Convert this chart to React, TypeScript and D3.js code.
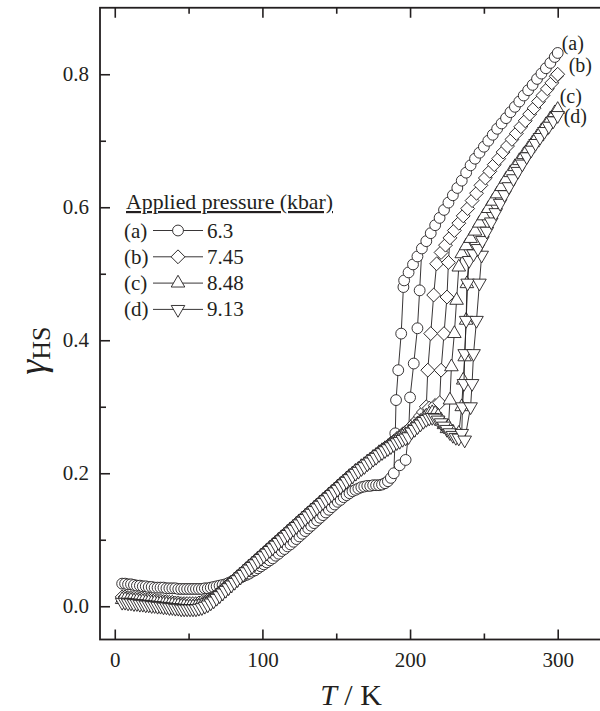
import * as d3 from "d3";
import { useEffect, useRef } from "react";

const width = 600;
const height = 711;
const ink = "#231f20";
const font = "'Liberation Serif', 'Times New Roman', serif";

// temperature grid (K) shared by the low-temperature branches: 5, 7, 9 ... 241
const lowT = [
  5, 7, 9, 11, 13, 15, 17, 19, 21, 23, 25, 27, 29, 31, 33, 35, 37, 39, 41, 43, 45, 47, 49, 51, 53, 55, 57, 59, 61, 63,
  65, 67, 69, 71, 73, 75, 77, 79, 81, 83, 85, 87, 89, 91, 93, 95, 97, 99, 101, 103, 105, 107, 109, 111, 113, 115, 117, 119, 121, 123,
  125, 127, 129, 131, 133, 135, 137, 139, 141, 143, 145, 147, 149, 151, 153, 155, 157, 159, 161, 163, 165, 167, 169, 171, 173, 175, 177, 179, 181, 183,
  185, 187, 189, 191, 193, 195, 197, 199, 201, 203, 205, 207, 209, 211, 213, 215, 217, 219, 221, 223, 225, 227, 229, 231, 233, 235, 237, 239, 241,
];

// (a) 6.3 kbar
const aLowV = [
  0.034, 0.034, 0.033, 0.033, 0.032, 0.031, 0.031, 0.03, 0.03, 0.029, 0.029, 0.028, 0.028, 0.028, 0.028, 0.027, 0.027, 0.027, 0.027, 0.026, 0.026, 0.026, 0.026, 0.026, 0.026, 0.026, 0.026, 0.026, 0.027, 0.027,
  0.028, 0.029, 0.03, 0.031, 0.032, 0.033, 0.035, 0.037, 0.039, 0.041, 0.043, 0.045, 0.047, 0.049, 0.052, 0.054, 0.057, 0.06, 0.063, 0.066, 0.069, 0.072, 0.076, 0.079, 0.083, 0.086, 0.09, 0.093, 0.097, 0.101,
  0.105, 0.109, 0.113, 0.117, 0.121, 0.125, 0.129, 0.133, 0.137, 0.141, 0.145, 0.149, 0.153, 0.157, 0.16, 0.164, 0.167, 0.17, 0.173, 0.175, 0.177, 0.179, 0.18, 0.181, 0.181, 0.182, 0.182, 0.182, 0.183, 0.185,
  0.188, 0.193, 0.2,
];
const aCol1T = [190, 190.5, 192, 194, 195.5];
const aCol1V = [0.26, 0.31, 0.355, 0.41, 0.48];
const aCol2T = [193, 197, 199, 200, 202.5, 205, 206.5];
const aCol2V = [0.212, 0.22, 0.26, 0.314, 0.365, 0.418, 0.475];
const aHighT = [196, 199, 202, 205, 208, 211, 214, 217, 220, 223, 226, 229, 232, 235, 238, 241, 244, 247, 250, 253, 256, 259, 262, 265, 268, 271, 274, 277, 280, 283, 286, 289, 292, 295, 298, 300];
const aHighV = [0.49, 0.502, 0.514, 0.526, 0.538, 0.549, 0.561, 0.573, 0.584, 0.596, 0.607, 0.618, 0.629, 0.64, 0.652, 0.663, 0.673, 0.682, 0.691, 0.7, 0.709, 0.718, 0.726, 0.734, 0.743, 0.751, 0.759, 0.768, 0.776, 0.784, 0.793, 0.801, 0.809, 0.817, 0.826, 0.832];

// (b) 7.45 kbar
const bLowV = [
  0.014, 0.014, 0.013, 0.013, 0.012, 0.012, 0.011, 0.011, 0.01, 0.01, 0.009, 0.009, 0.008, 0.008, 0.007, 0.007, 0.006, 0.006, 0.005, 0.005, 0.004, 0.004, 0.004, 0.004, 0.004, 0.004, 0.005, 0.006, 0.007, 0.009,
  0.011, 0.014, 0.017, 0.02, 0.024, 0.028, 0.032, 0.036, 0.04, 0.044, 0.048, 0.052, 0.056, 0.06, 0.064, 0.068, 0.072, 0.076, 0.08, 0.084, 0.088, 0.092, 0.096, 0.1, 0.104, 0.108, 0.112, 0.116, 0.12, 0.124,
  0.128, 0.132, 0.136, 0.14, 0.144, 0.148, 0.152, 0.156, 0.16, 0.164, 0.168, 0.172, 0.176, 0.18, 0.184, 0.188, 0.192, 0.196, 0.199, 0.203, 0.206, 0.21, 0.213, 0.217, 0.22, 0.224, 0.227, 0.231, 0.234, 0.238,
  0.241, 0.245, 0.248, 0.252, 0.255, 0.259, 0.262, 0.266, 0.27, 0.275, 0.28, 0.286, 0.292,
];
const bCol1T = [211, 212, 214, 216, 218];
const bCol1V = [0.3, 0.355, 0.41, 0.468, 0.515];
const bCol2T = [213, 217, 220, 221, 223, 225, 226];
const bCol2V = [0.298, 0.302, 0.306, 0.355, 0.41, 0.465, 0.517];
const bHighT = [221, 224, 227, 230, 233, 236, 239, 242, 245, 248, 251, 254, 257, 260, 263, 266, 269, 272, 275, 278, 281, 284, 287, 290, 293, 296, 299, 300];
const bHighV = [0.532, 0.543, 0.554, 0.565, 0.576, 0.587, 0.598, 0.61, 0.621, 0.633, 0.644, 0.654, 0.664, 0.673, 0.683, 0.692, 0.702, 0.711, 0.721, 0.73, 0.74, 0.749, 0.759, 0.768, 0.778, 0.787, 0.797, 0.8];

// (c) 8.48 kbar
const cLowV = [
  0.01, 0.01, 0.009, 0.009, 0.008, 0.008, 0.007, 0.007, 0.006, 0.006, 0.005, 0.005, 0.004, 0.004, 0.003, 0.003, 0.002, 0.002, 0.001, 0.001, 0.0, 0.0, -0.001, -0.001, -0.001, -0.001, 0.0, 0.001, 0.003, 0.005,
  0.008, 0.011, 0.015, 0.019, 0.023, 0.027, 0.031, 0.035, 0.039, 0.043, 0.047, 0.051, 0.055, 0.059, 0.063, 0.067, 0.071, 0.075, 0.079, 0.083, 0.087, 0.091, 0.095, 0.099, 0.103, 0.107, 0.111, 0.115, 0.119, 0.123,
  0.127, 0.131, 0.135, 0.139, 0.143, 0.147, 0.151, 0.155, 0.159, 0.163, 0.167, 0.171, 0.175, 0.179, 0.183, 0.187, 0.191, 0.195, 0.199, 0.203, 0.206, 0.21, 0.213, 0.217, 0.22, 0.224, 0.227, 0.231, 0.234, 0.237,
  0.24, 0.243, 0.246, 0.249, 0.252, 0.255, 0.258, 0.261, 0.266, 0.27, 0.274, 0.278, 0.282, 0.286, 0.289, 0.291, 0.29, 0.286, 0.28, 0.273, 0.267,
];
const cCol1T = [226, 227, 228, 230, 231.5, 233];
const cCol1V = [0.27, 0.31, 0.36, 0.41, 0.46, 0.51];
const cCol2T = [229, 233, 235, 236, 237, 238, 238.5];
const cCol2V = [0.262, 0.26, 0.3, 0.34, 0.375, 0.43, 0.485];
const cHighT = [235, 238, 241, 244, 247, 250, 253, 256, 259, 262, 265, 268, 271, 274, 277, 280, 283, 286, 289, 292, 295, 298, 300];
const cHighV = [0.53, 0.542, 0.553, 0.564, 0.576, 0.587, 0.598, 0.609, 0.62, 0.631, 0.642, 0.652, 0.661, 0.67, 0.679, 0.688, 0.697, 0.706, 0.715, 0.724, 0.733, 0.742, 0.747];

// (d) 9.13 kbar
const dLowV = [
  0.006, 0.006, 0.005, 0.005, 0.004, 0.004, 0.003, 0.003, 0.002, 0.002, 0.001, 0.001, 0.0, 0.0, -0.001, -0.001, -0.002, -0.002, -0.003, -0.003, -0.004, -0.004, -0.004, -0.004, -0.004, -0.004, -0.003, -0.002, 0.0, 0.002,
  0.005, 0.008, 0.012, 0.016, 0.02, 0.024, 0.028, 0.032, 0.036, 0.04, 0.044, 0.048, 0.052, 0.056, 0.06, 0.064, 0.068, 0.072, 0.076, 0.08, 0.084, 0.088, 0.092, 0.096, 0.1, 0.104, 0.108, 0.112, 0.116, 0.12,
  0.124, 0.128, 0.132, 0.136, 0.14, 0.144, 0.148, 0.152, 0.156, 0.16, 0.164, 0.168, 0.172, 0.176, 0.18, 0.184, 0.188, 0.192, 0.196, 0.2, 0.203, 0.207, 0.21, 0.214, 0.217, 0.221, 0.224, 0.228, 0.231, 0.234,
  0.237, 0.24, 0.243, 0.246, 0.248, 0.251, 0.253, 0.255, 0.262, 0.266, 0.27, 0.274, 0.278, 0.281, 0.283, 0.284, 0.283, 0.28, 0.276, 0.271, 0.266, 0.261, 0.257, 0.254, 0.253,
];
const dCol1T = [235, 235.5, 236.5, 237, 238, 239, 240];
const dCol1V = [0.26, 0.3, 0.335, 0.38, 0.43, 0.486, 0.52];
const dCol2T = [237, 241, 242, 243, 245, 247, 248.5];
const dCol2V = [0.25, 0.3, 0.335, 0.38, 0.43, 0.486, 0.528];
const dHighT = [243, 246, 249, 252, 255, 258, 261, 264, 267, 270, 273, 276, 279, 282, 285, 288, 291, 294, 297, 300];
const dHighV = [0.53, 0.538, 0.55, 0.564, 0.578, 0.592, 0.606, 0.619, 0.631, 0.643, 0.654, 0.665, 0.676, 0.686, 0.696, 0.705, 0.714, 0.722, 0.73, 0.738];

const ids = ["(a)", "(b)", "(c)", "(d)"];
const pressures = ["6.3", "7.45", "8.48", "9.13"];
const shapes = ["circle", "diamond", "up", "down"];

const xMajor = [0, 100, 200, 300];
const xMinor = [50, 150, 250];
const yMajor = [0, 0.2, 0.4, 0.6, 0.8];
const yMinor = [0.1, 0.3, 0.5, 0.7];

type Pt = [number, number];
const zip = (t: number[], v: number[]): Pt[] => v.map((d, i) => [t[i], d]);

const series = [
  { low: zip(lowT, aLowV), col1: zip(aCol1T, aCol1V), col2: zip(aCol2T, aCol2V), high: zip(aHighT, aHighV) },
  { low: zip(lowT, bLowV), col1: zip(bCol1T, bCol1V), col2: zip(bCol2T, bCol2V), high: zip(bHighT, bHighV) },
  { low: zip(lowT, cLowV), col1: zip(cCol1T, cCol1V), col2: zip(cCol2T, cCol2V), high: zip(cHighT, cHighV) },
  { low: zip(lowT, dLowV), col1: zip(dCol1T, dCol1V), col2: zip(dCol2T, dCol2V), high: zip(dHighT, dHighV) },
].map((s, i) => ({ ...s, id: ids[i], p: pressures[i], shape: shapes[i] }));

// where the (a)..(d) tags sit relative to the last point of each curve
const tagOffset: Pt[] = [[4, -3], [11, -2], [2, -6.5], [6, 8]];

const symbolFor = (shape: string) => {
  if (shape === "circle") return { d: d3.symbol(d3.symbolCircle, 92)(), rot: 0 };
  if (shape === "diamond") return { d: d3.symbol(d3.symbolSquare, 96)(), rot: 45 };
  return { d: d3.symbol(d3.symbolTriangle, 80)(), rot: shape === "down" ? 180 : 0 };
};

const App = () => {
  const ref = useRef<SVGSVGElement>(null);

  useEffect(() => {
    if (!ref.current) return;
    const svg = d3.select(ref.current);
    svg.selectAll("*").remove();

    const x = d3.scaleLinear().domain([-10, 330]).range([100, 602]);
    const y = d3.scaleLinear().domain([-0.05, 0.9]).range([639.5, 7.75]);
    const [x0, x1] = x.range();
    const [y0, y1] = y.range();

    const line = d3
      .line<Pt>()
      .x((d) => x(d[0]))
      .y((d) => y(d[1]));

    const plot = svg.append("g");

    series.forEach((s) => {
      const sym = symbolFor(s.shape);
      const lastLow = s.low.filter((d) => d[0] <= s.col2[0][0]).pop() as Pt;
      const top2 = s.col2[s.col2.length - 1][0];
      const firstHigh = s.high.find((d) => d[0] >= top2) ?? s.high[0];
      const pathA = [...s.low, ...s.col1, ...s.high];
      const pathB = [lastLow, ...s.col2, firstHigh];
      const g = plot.append("g");
      [pathA, pathB].forEach((p) => {
        g.append("path")
          .attr("d", line(p))
          .attr("fill", "none")
          .attr("stroke", ink)
          .attr("stroke-width", 0.9);
      });
      g.selectAll("path.m")
        .data([...s.low, ...s.col1, ...s.col2, ...s.high])
        .join("path")
        .attr("class", "m")
        .attr("d", sym.d)
        .attr("transform", (d) => `translate(${x(d[0])},${y(d[1])}) rotate(${sym.rot})`)
        .attr("fill", "white")
        .attr("stroke", ink)
        .attr("stroke-width", 0.9);

      const last = s.high[s.high.length - 1];
      const off = tagOffset[ids.indexOf(s.id)];
      svg
        .append("text")
        .attr("x", x(last[0]) + off[0])
        .attr("y", y(last[1]) + off[1])
        .attr("font-size", 20)
        .attr("font-family", font)
        .attr("fill", ink)
        .text(s.id);
    });

    // frame
    svg
      .append("rect")
      .attr("x", x0)
      .attr("y", y1)
      .attr("width", x1 - x0)
      .attr("height", y0 - y1)
      .attr("fill", "none")
      .attr("stroke", ink)
      .attr("stroke-width", 1.8);

    const styleAxis = (g: d3.Selection<SVGGElement, unknown, null, undefined>) => {
      g.select(".domain").remove();
      g.selectAll("line").attr("stroke", ink).attr("stroke-width", 1.6);
      g.selectAll("text").attr("fill", ink).attr("font-size", 21).attr("font-family", font);
    };

    svg
      .append("g")
      .attr("transform", `translate(0,${y0})`)
      .call(d3.axisBottom(x).tickValues(xMajor).tickSize(-10).tickPadding(12.5).tickFormat(d3.format("d")))
      .call(styleAxis);
    svg
      .append("g")
      .attr("transform", `translate(0,${y0})`)
      .call(d3.axisBottom(x).tickValues(xMinor).tickSize(-6).tickFormat(() => ""))
      .call(styleAxis);
    svg
      .append("g")
      .attr("transform", `translate(0,${y1})`)
      .call(d3.axisTop(x).tickValues(xMajor).tickSize(-10).tickFormat(() => ""))
      .call(styleAxis);
    svg
      .append("g")
      .attr("transform", `translate(0,${y1})`)
      .call(d3.axisTop(x).tickValues(xMinor).tickSize(-6).tickFormat(() => ""))
      .call(styleAxis);
    svg
      .append("g")
      .attr("transform", `translate(${x0},0)`)
      .call(d3.axisLeft(y).tickValues(yMajor).tickSize(-10).tickPadding(11).tickFormat(d3.format(".1f")))
      .call(styleAxis);
    svg
      .append("g")
      .attr("transform", `translate(${x0},0)`)
      .call(d3.axisLeft(y).tickValues(yMinor).tickSize(-6).tickFormat(() => ""))
      .call(styleAxis);

    // axis titles
    const xt = svg
      .append("text")
      .attr("x", (x0 + x1) / 2)
      .attr("y", 705)
      .attr("text-anchor", "middle")
      .attr("font-size", 30)
      .attr("font-family", font)
      .attr("fill", ink);
    xt.append("tspan").attr("font-style", "italic").text("T");
    xt.append("tspan").text(" / K");

    const yt = svg
      .append("text")
      .attr("transform", `translate(45,${(y0 + y1) / 2 + 27}) rotate(-90)`)
      .attr("text-anchor", "middle")
      .attr("font-family", font)
      .attr("fill", ink);
    yt.append("tspan").attr("font-style", "italic").attr("font-size", 38).text("γ");
    yt.append("tspan").attr("font-size", 26).attr("dy", 5).text("HS");

    // legend
    const lg = svg.append("g").attr("font-family", font).attr("font-size", 21).attr("fill", ink);
    lg.append("text")
      .attr("x", 126)
      .attr("y", 209)
      .attr("font-size", 21.8)
      .style("text-decoration", "underline")
      .text("Applied pressure (kbar)");
    series.forEach((s, i) => {
      const base = 237.5 + i * 26.3;
      const cy = base - 7;
      const sym = symbolFor(s.shape);
      lg.append("text").attr("x", 124).attr("y", base).text(s.id);
      lg.append("line")
        .attr("x1", 153)
        .attr("x2", 203)
        .attr("y1", cy)
        .attr("y2", cy)
        .attr("stroke", ink)
        .attr("stroke-width", 0.9);
      lg.append("path")
        .attr("d", sym.d)
        .attr("transform", `translate(178,${cy}) rotate(${sym.rot})`)
        .attr("fill", "white")
        .attr("stroke", ink)
        .attr("stroke-width", 0.9);
      lg.append("text").attr("x", 207).attr("y", base).text(s.p);
    });
  }, []);

  return (
    <svg
      ref={ref}
      width={width}
      height={height}
      style={{ position: "absolute", left: 0, top: 0, background: "white" }}
    />
  );
};

export default App;
